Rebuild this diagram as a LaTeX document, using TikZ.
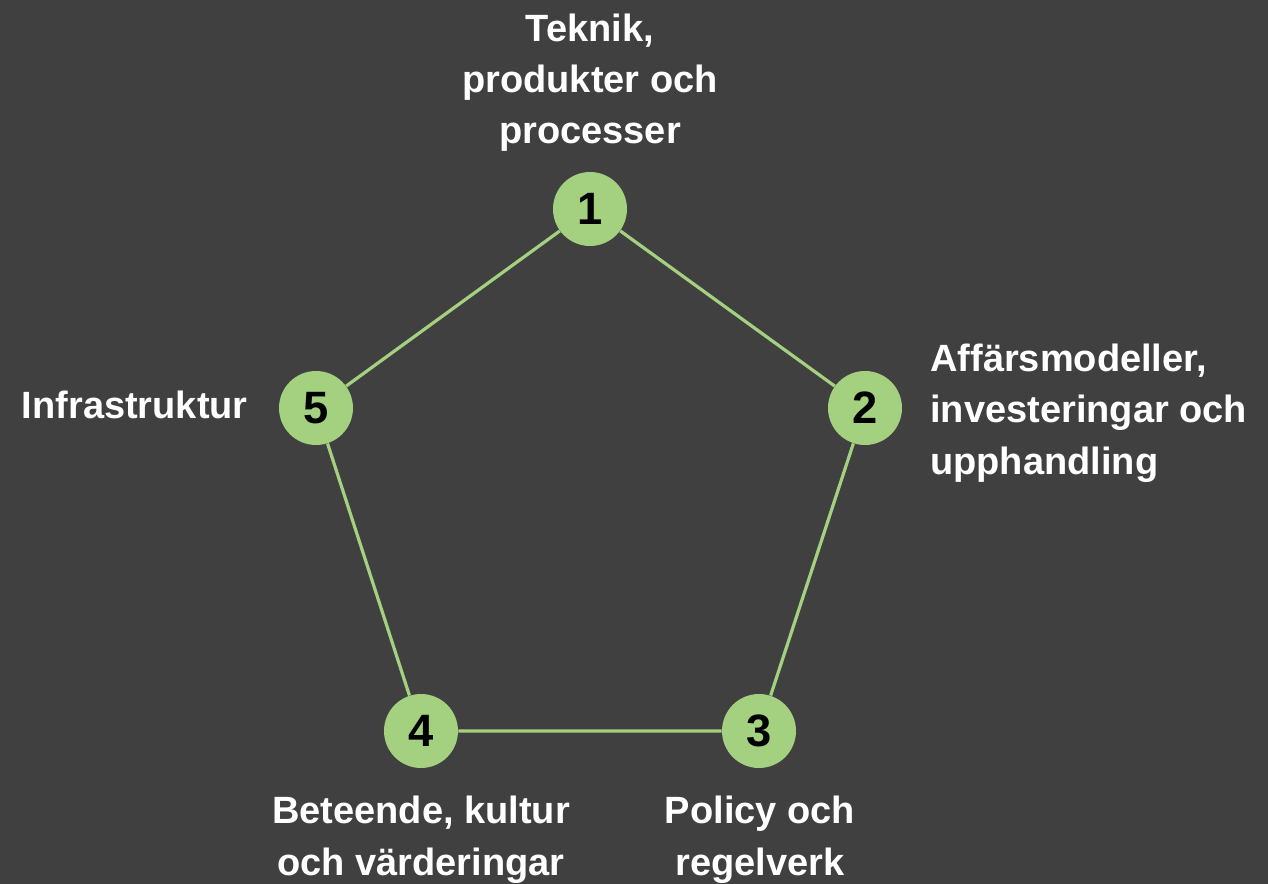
\documentclass[tikz,border=0pt]{standalone}
\usepackage{fontspec}
\setmainfont{Liberation Sans}
\definecolor{bg}{RGB}{64,64,64}
\definecolor{leaf}{RGB}{163,209,127}
\begin{document}
\begin{tikzpicture}[x=0.75pt,y=-0.75pt,
  dot/.style={circle,fill=leaf,draw=none,minimum size=55.5pt,inner sep=0pt,
    font=\fontsize{34}{34}\selectfont\bfseries,text=black},
  edge/.style={draw=leaf,line width=2.4pt},
  lbl/.style={text=white,inner sep=0pt,font=\fontsize{28.5}{38.6}\selectfont\bfseries}]
\fill[bg] (0,0) rectangle (1268,884);
\useasboundingbox (0,0) rectangle (1268,884);
\node[dot] (n1) at (590,209) {1};
\node[dot] (n2) at (865,408) {2};
\node[dot] (n3) at (759,731) {3};
\node[dot] (n4) at (421,731) {4};
\node[dot] (n5) at (316,408) {5};
\path[edge] (n1) -- (n2) (n2) -- (n3) (n3) -- (n4) (n4) -- (n5) (n5) -- (n1);
\node[lbl,align=center,anchor=base] (t1) at (590,144) {Teknik,\\produkter och\\processer};
\node[lbl,align=left,anchor=base west] (t2) at (930,474) {Affärsmodeller,\\investeringar och\\upphandling};
\node[lbl,align=center,anchor=base] (t3) at (760,875) {Policy och\\regelverk};
\node[lbl,align=center,anchor=base] (t4) at (421,875) {Beteende, kultur\\och värderingar};
\node[lbl,anchor=base east] (t5) at (248,418) {Infrastruktur};
\end{tikzpicture}
\end{document}
